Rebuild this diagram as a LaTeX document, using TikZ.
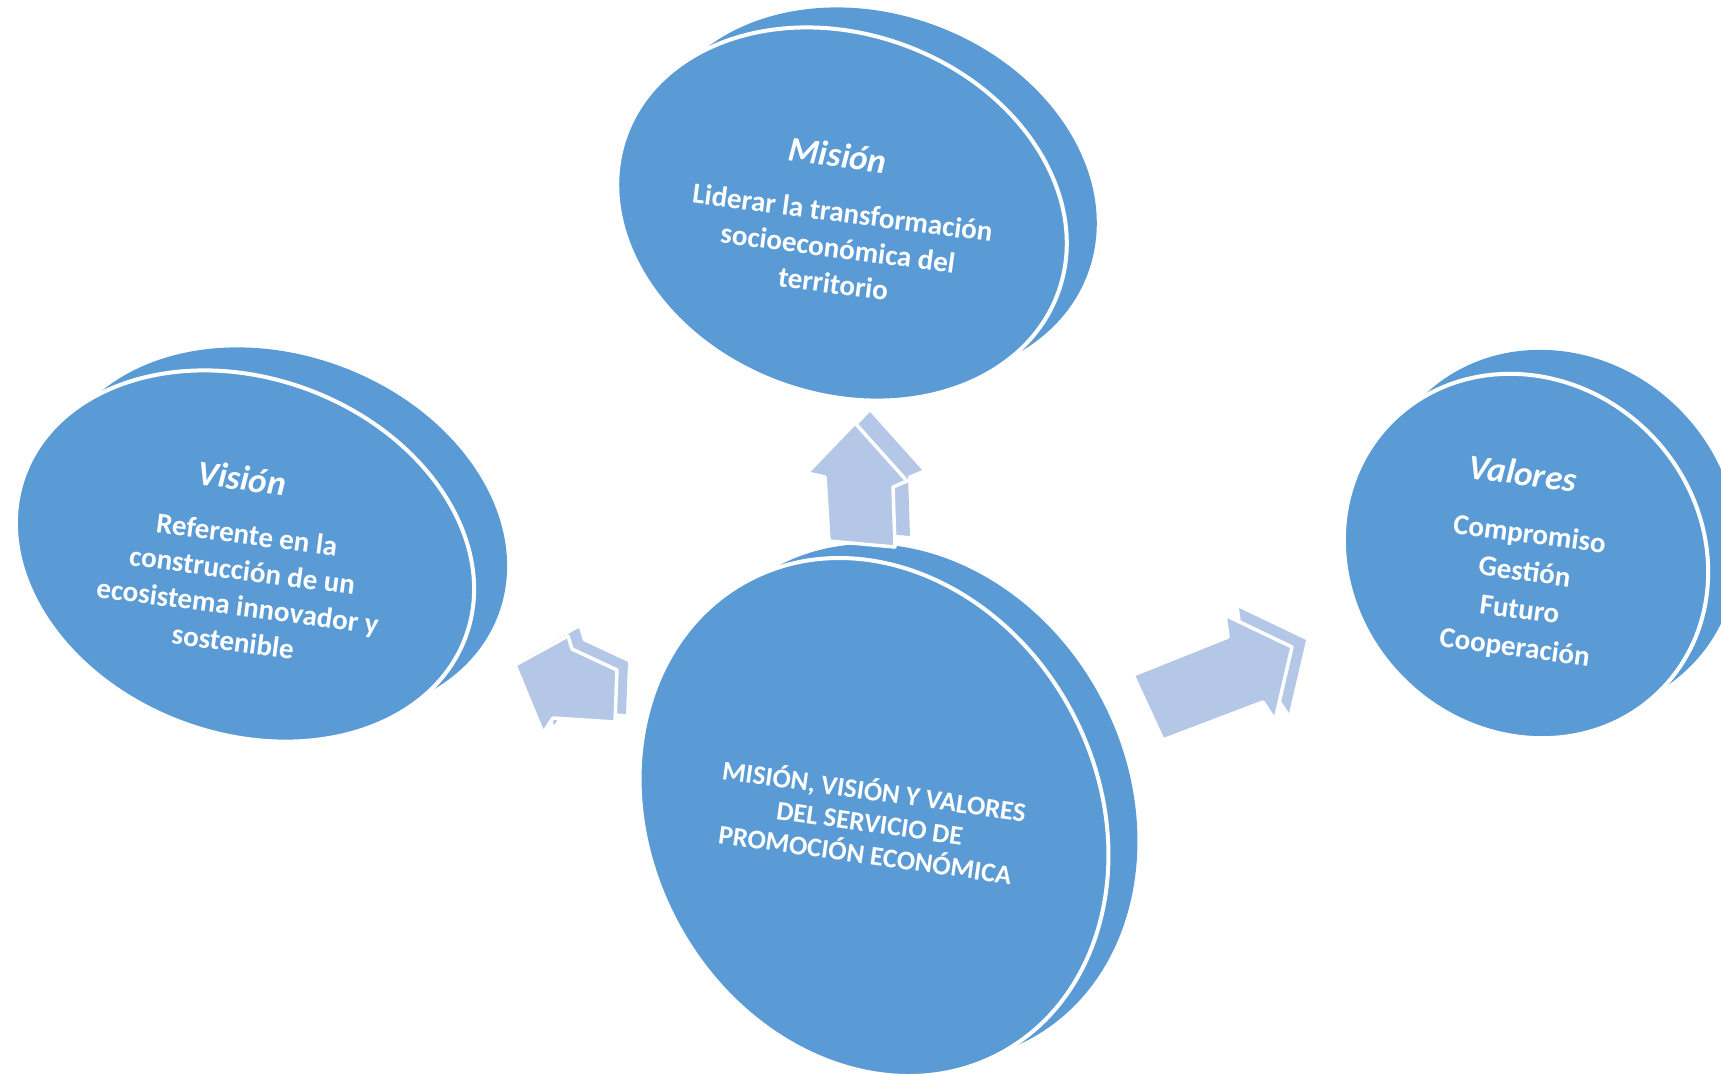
\documentclass[tikz,border=0pt]{standalone}
\usepackage{fontspec}
\setmainfont{Carlito}
\definecolor{diskblue}{HTML}{5B9BD5}
\definecolor{arrowblue}{HTML}{B4C7E7}
\begin{document}
\begin{tikzpicture}[x=1pt,y=-1pt,
  diskback/.style={fill=diskblue},
  diskfront/.style={fill=diskblue, draw=white, line width=4pt},
  arrback/.style={fill=arrowblue},
  arrfront/.style={fill=arrowblue, draw=white, line width=3.5pt, line join=round},
  ttl/.style={text=white, font=\fontsize{35}{42}\selectfont\bfseries\itshape, rotate=-7.5, inner sep=0pt},
  bodytxt/.style={text=white, font=\fontsize{29}{36}\selectfont\bfseries, align=center, rotate=-7.5, inner sep=0pt}]
\useasboundingbox (0,0) rectangle (1721,1074);
\clip (0,0) rectangle (1721,1074);

% Mision disk
\fill[diskback, rotate around={-20:(872,194)}] (872,194) ellipse [x radius=230, y radius=180];
\filldraw[diskfront, rotate around={-20:(842,214)}] (842,214) ellipse [x radius=230, y radius=180];

% Vision disk
\fill[diskback, rotate around={-20:(278,533)}] (278,533) ellipse [x radius=235, y radius=178];
\filldraw[diskfront, rotate around={-20:(245,556)}] (245,556) ellipse [x radius=235, y radius=178];

% Valores disk
\fill[diskback, rotate around={-45:(1556,532)}] (1556,532) ellipse [x radius=190, y radius=174];
\filldraw[diskfront, rotate around={-45:(1526,556)}] (1526,556) ellipse [x radius=190, y radius=174];

% Center disk
\fill[diskback, rotate around={28:(903,803)}] (903,803) ellipse [x radius=224, y radius=268];
\filldraw[diskfront, rotate around={28:(874,817)}] (874,817) ellipse [x radius=224, y radius=268];

% Up arrow
\fill[arrback, shift={(15,-11)}] (855,423) -- (907,481) -- (893,487) -- (895,547) -- (829,541) -- (825,477) -- (807,473) -- cycle;
\filldraw[arrfront] (855,423) -- (907,481) -- (893,487) -- (895,547) -- (829,541) -- (825,477) -- (807,473) -- cycle;

% Left arrow
\fill[arrback, shift={(11,-8)}] (515,665) -- (568,636) -- (572,649) -- (617,670) -- (615,722) -- (553,718) -- (543,733) -- cycle;
\filldraw[arrfront] (515,665) -- (568,636) -- (572,649) -- (617,670) -- (615,722) -- (553,718) -- (543,733) -- cycle;

% Right arrow
\fill[arrback, shift={(14,-7)}] (1163,740) -- (1133,675) -- (1228,637) -- (1225,615) -- (1292,647) -- (1275,720) -- (1263,702) -- cycle;
\filldraw[arrfront] (1163,740) -- (1133,675) -- (1228,637) -- (1225,615) -- (1292,647) -- (1275,720) -- (1263,702) -- cycle;

% Texts
\node[ttl] (misT) at (838,155) {Misión};
\node[bodytxt] (misB) at (838,248) {Liderar la transformación\\socioeconómica del\\territorio};

\node[ttl] (visT) at (242,478) {Visión};
\node[bodytxt] (visB) at (240,588) {Referente en la\\construcción de un\\ecosistema innovador y\\sostenible};

\node[ttl] (valT) at (1523,473) {Valores};
\node[bodytxt, font=\fontsize{29}{38}\selectfont\bfseries] (valB) at (1522,592) {Compromiso\\Gestión\\Futuro\\Cooperación};

\node[bodytxt, font=\fontsize{27}{32}\selectfont\bfseries, rotate=-0.5] (cenT) at (870,821) {MISIÓN, VISIÓN Y VALORES\\DEL SERVICIO DE\\PROMOCIÓN ECONÓMICA};
\end{tikzpicture}
\end{document}
